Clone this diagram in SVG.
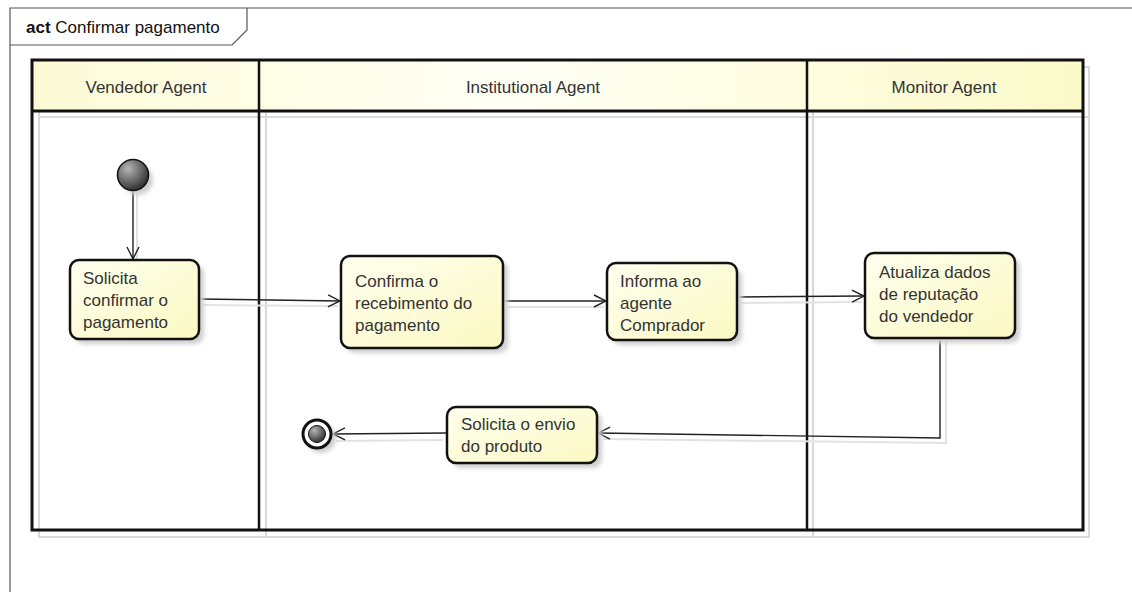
<svg xmlns="http://www.w3.org/2000/svg" width="1132" height="592" viewBox="0 0 1132 592">
<style>
  .t{font-family:"Liberation Sans",Arial,sans-serif;font-size:17px;fill:#333}
  .hdr{fill:url(#hg);stroke:none}
  .node{fill:url(#ng);stroke:#111;stroke-width:2.5}
  .sh{fill:#cfcfcf;filter:url(#blur)}
  .lsh{fill:none;stroke:#d9d9d9;stroke-width:2}
  .conn{fill:none;stroke:#222;stroke-width:1.4}
  .csh{fill:none;stroke:#e2e2e2;stroke-width:2}
</style>
<defs>
  <linearGradient id="hg" x1="0" y1="0" x2="1" y2="0">
    <stop offset="0" stop-color="#fcfbd6"/>
    <stop offset="0.45" stop-color="#fffff6"/>
    <stop offset="1" stop-color="#fbfac9"/>
  </linearGradient>
  <linearGradient id="ng" x1="0" y1="0" x2="1" y2="1">
    <stop offset="0" stop-color="#ffffef"/>
    <stop offset="1" stop-color="#fbf9c2"/>
  </linearGradient>
  <radialGradient id="dg" cx="0.35" cy="0.3" r="0.8">
    <stop offset="0" stop-color="#b5b5b5"/>
    <stop offset="1" stop-color="#222"/>
  </radialGradient>
  <filter id="blur" x="-20%" y="-20%" width="140%" height="140%">
    <feGaussianBlur stdDeviation="2"/>
  </filter>
  <marker id="arr" markerWidth="14" markerHeight="14" refX="13" refY="7" orient="auto" markerUnits="userSpaceOnUse">
    <path d="M1,1 L13,7 L1,13" fill="none" stroke="#222" stroke-width="1.4"/>
  </marker>
</defs>
<rect width="1132" height="592" fill="#fff"/>

<!-- frame -->
<g id="frame">
  <path d="M1140,8 L10,8 L10,600" fill="none" stroke="#555" stroke-width="1.2"/>
  <path d="M10,45 L232,45 L247,30 L247,8" fill="none" stroke="#555" stroke-width="1.2"/>
  <text x="26" y="33" font-family="Liberation Sans,Arial,sans-serif" font-size="17" fill="#111"><tspan font-weight="bold">act</tspan> Confirmar pagamento</text>
</g>

<!-- partitions -->
<g id="lanes">
  <rect class="lsh" x="39" y="67" width="227" height="470"/>
  <rect class="lsh" x="266" y="67" width="547" height="470"/>
  <rect class="lsh" x="813" y="67" width="276" height="470"/>
  <line class="lsh" x1="39" y1="117" x2="1089" y2="117"/>
  <rect class="hdr" x="32" y="60" width="1051" height="51"/>
  <rect x="32" y="60" width="1051" height="470" fill="none" stroke="#111" stroke-width="3"/>
  <line x1="32" y1="111" x2="1083" y2="111" stroke="#111" stroke-width="3"/>
  <line x1="259" y1="60" x2="259" y2="530" stroke="#111" stroke-width="2.5"/>
  <line x1="807" y1="60" x2="807" y2="530" stroke="#111" stroke-width="2.5"/>
  <text class="t" x="146" y="93" text-anchor="middle">Vendedor Agent</text>
  <text class="t" x="533" y="93" text-anchor="middle">Institutional Agent</text>
  <text class="t" x="944" y="93" text-anchor="middle">Monitor Agent</text>
</g>

<!-- connectors -->
<g id="connectors">
  <path class="csh" d="M137,193 L137,263"/>
  <path class="csh" d="M203,305 L338,306"/>
  <path class="csh" d="M507,307 L604,307"/>
  <path class="csh" d="M741,303 L862,302"/>
  <path class="csh" d="M946,341 L946,443 L603,439"/>
  <path class="csh" d="M443,440 L336,441"/>
  <path class="conn" d="M133,191 L133,259" marker-end="url(#arr)"/>
  <path class="conn" d="M199,299 L340,301" marker-end="url(#arr)"/>
  <path class="conn" d="M503,301 L606,301" marker-end="url(#arr)"/>
  <path class="conn" d="M737,297 L864,296" marker-end="url(#arr)"/>
  <path class="conn" d="M940,338 L940,438 L598,433" marker-end="url(#arr)"/>
  <path class="conn" d="M447,433 L333,434" marker-end="url(#arr)"/>
</g>

<!-- nodes -->
<g id="initial">
  <circle class="sh" cx="138" cy="180" r="15"/>
  <circle cx="133" cy="175" r="15.5" fill="url(#dg)" stroke="#111" stroke-width="1.5"/>
</g>

<g id="n-solicita">
  <rect class="sh" x="75" y="265" width="129" height="79" rx="9"/>
  <rect class="node" x="70" y="260" width="129" height="79" rx="9"/>
  <text class="t" x="83" y="284">Solicita</text>
  <text class="t" x="83" y="306">confirmar o</text>
  <text class="t" x="83" y="328">pagamento</text>
</g>

<g id="n-confirma">
  <rect class="sh" x="346" y="261" width="162" height="92" rx="9"/>
  <rect class="node" x="341" y="256" width="162" height="92" rx="9"/>
  <text class="t" x="355" y="287">Confirma o</text>
  <text class="t" x="355" y="309">recebimento do</text>
  <text class="t" x="355" y="331">pagamento</text>
</g>

<g id="n-informa">
  <rect class="sh" x="612" y="268" width="130" height="77" rx="9"/>
  <rect class="node" x="607" y="263" width="130" height="77" rx="9"/>
  <text class="t" x="620" y="287">Informa ao</text>
  <text class="t" x="620" y="309">agente</text>
  <text class="t" x="620" y="331">Comprador</text>
</g>

<g id="n-atualiza">
  <rect class="sh" x="870" y="258" width="150" height="85" rx="9"/>
  <rect class="node" x="865" y="253" width="150" height="85" rx="9"/>
  <text class="t" x="879" y="278">Atualiza dados</text>
  <text class="t" x="879" y="300">de reputação</text>
  <text class="t" x="879" y="322">do vendedor</text>
</g>

<g id="n-envio">
  <rect class="sh" x="452" y="412" width="150" height="56" rx="9"/>
  <rect class="node" x="447" y="407" width="150" height="56" rx="9"/>
  <text class="t" x="461" y="430">Solicita o envio</text>
  <text class="t" x="461" y="452">do produto</text>
</g>

<g id="final">
  <circle class="sh" cx="321" cy="438" r="15"/>
  <circle cx="317" cy="434" r="14" fill="#fff" stroke="#111" stroke-width="3"/>
  <circle cx="317" cy="434" r="8.5" fill="url(#dg)" stroke="#111" stroke-width="1"/>
</g>
</svg>
